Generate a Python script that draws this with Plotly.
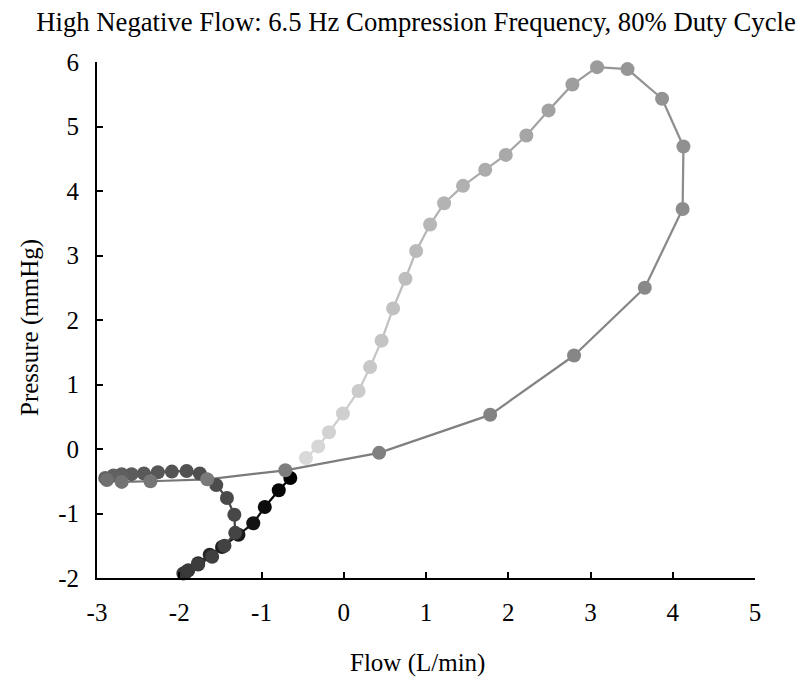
import plotly.graph_objects as go

# Phase 1: rising limb (light)
rise_flow = [-0.46, -0.31, -0.18, -0.01, 0.18, 0.32, 0.46, 0.60, 0.75, 0.88, 1.05, 1.22, 1.45, 1.72, 1.97, 2.22, 2.49, 2.78, 3.08]
rise_pres = [-0.14, 0.04, 0.26, 0.55, 0.90, 1.27, 1.68, 2.18, 2.64, 3.07, 3.48, 3.81, 4.08, 4.33, 4.56, 4.86, 5.25, 5.65, 5.92]

# Phase 2: return limb (mid gray)
ret_flow = [3.45, 3.87, 4.13, 4.12, 3.66, 2.80, 1.78, 0.43, -0.71, -1.66, -2.35, -2.70, -2.88]
ret_pres = [5.89, 5.43, 4.69, 3.72, 2.50, 1.45, 0.53, -0.06, -0.33, -0.47, -0.50, -0.51, -0.48]

# Phase 3: left loop (dark gray)
loop_flow = [-2.90, -2.80, -2.70, -2.58, -2.43, -2.26, -2.09, -1.91, -1.75, -1.55, -1.42, -1.33, -1.32, -1.45, -1.60, -1.77, -1.89, -1.95]
loop_pres = [-0.45, -0.41, -0.39, -0.39, -0.38, -0.36, -0.35, -0.34, -0.38, -0.56, -0.76, -1.02, -1.30, -1.50, -1.67, -1.79, -1.88, -1.93]

# Phase 4: final rise (black)
fin_flow = [-1.92, -1.77, -1.63, -1.48, -1.28, -1.10, -0.96, -0.79, -0.65]
fin_pres = [-1.91, -1.77, -1.64, -1.52, -1.33, -1.15, -0.90, -0.64, -0.45]

x_ticks = [-3, -2, -1, 0, 1, 2, 3, 4, 5]
y_ticks = [-2, -1, 0, 1, 2, 3, 4, 5, 6]

TITLE = "High Negative Flow: 6.5 Hz Compression Frequency, 80% Duty Cycle"
X_TITLE = "Flow (L/min)"
Y_TITLE = "Pressure (mmHg)"

FONT = "Liberation Serif, Times New Roman, serif"

phases = [
    (rise_flow, rise_pres, 217, 155),
    (ret_flow, ret_pres, 150, 112),
    (loop_flow, loop_pres, 100, 55),
    (fin_flow, fin_pres, 50, 0),
]

xs, ys, cols = [], [], []
for fx, fy, g0, g1 in phases:
    n = len(fx)
    for i in range(n):
        g = round(g0 + (g1 - g0) * (i / (n - 1) if n > 1 else 0))
        xs.append(fx[i])
        ys.append(fy[i])
        cols.append(f"rgb({g},{g},{g})")

fig = go.Figure()

# line segments (colored by point), drawn later-first so earlier ones are on top
for i in range(len(xs) - 1, 0, -1):
    fig.add_trace(go.Scatter(
        x=[xs[i - 1], xs[i]], y=[ys[i - 1], ys[i]], mode="lines",
        line=dict(color=cols[i], width=2.25), hoverinfo="skip",
        showlegend=False, cliponaxis=False))

fig.add_trace(go.Scatter(
    x=xs[::-1], y=ys[::-1], mode="markers",
    marker=dict(size=14, color=cols[::-1], line=dict(width=0)),
    showlegend=False, cliponaxis=False))

axis_common = dict(
    showgrid=False, zeroline=False, showline=True, linecolor="black", linewidth=2,
    ticks="inside", ticklen=6, tickwidth=1.5, tickcolor="black",
    tickfont=dict(family=FONT, size=25, color="black"),
)

fig.update_layout(
    width=802, height=678,
    margin=dict(l=97, r=47, t=62, b=100),
    paper_bgcolor="white", plot_bgcolor="white",
    title=dict(text=TITLE, x=416 / 802, xanchor="center", y=1 - 22 / 678, yanchor="middle",
               font=dict(family=FONT, size=26.7, color="black")),
    xaxis=dict(range=[-3, 5], tickvals=x_ticks, ticktext=[str(v) for v in x_ticks],
               ticklabelstandoff=11, **axis_common),
    yaxis=dict(range=[-2, 6], tickvals=y_ticks, ticktext=[str(v) for v in y_ticks],
               ticklabelstandoff=11, **axis_common),
    annotations=[
        dict(text=X_TITLE, xref="paper", yref="paper", x=(417 - 97) / 658, y=-85 / 516,
             xanchor="center", yanchor="middle", showarrow=False,
             font=dict(family=FONT, size=25, color="black")),
        dict(text=Y_TITLE, xref="paper", yref="paper", x=-67 / 658, y=0.5 - 8 / 516,
             xanchor="center", yanchor="middle", showarrow=False, textangle=-90,
             font=dict(family=FONT, size=25, color="black")),
    ],
)

fig.write_html("out.html")
